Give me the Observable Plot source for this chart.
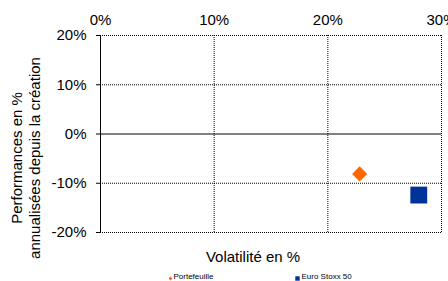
<!DOCTYPE html>
<html>
<head>
<meta charset="utf-8">
<script src="https://cdn.jsdelivr.net/npm/d3@7"></script>
<script src="https://cdn.jsdelivr.net/npm/@observablehq/plot@0.6"></script>
<style>
  html, body { margin: 0; padding: 0; background: #fff; overflow: hidden; }
  #chart { width: 448px; height: 281px; }
</style>
</head>
<body>
<div id="chart"></div>
<script>
const series = ["Portefeuille", "Euro Stoxx 50"];
const volatility = [22.8, 28.0];
const performance = [-8.1, -12.4];
const colors = ["#FF6600", "#003399"];
const symbols = ["diamond2", "square"];
const xTicks = [0, 10, 20, 30];
const yTicks = [-20, -10, 0, 10, 20];
const xTitle = "Volatilité en %";
const yTitle = "Performances en %\nannualisées depuis la création";

const data = series.map((s, i) => ({ s, x: volatility[i], y: performance[i], c: colors[i], sym: symbols[i] }));
const pct = d => d + "%";
const dotted = { stroke: "#000", strokeOpacity: 1, strokeDasharray: "1,1" };

const chart = Plot.plot({
  width: 448,
  height: 281,
  marginLeft: 100,
  marginRight: 7,
  marginTop: 35,
  marginBottom: 49,
  style: { fontFamily: "'Liberation Sans', Arial, sans-serif", fontSize: "15px", color: "#000", background: "#fff" },
  x: { domain: [0, 30], axis: null },
  y: { domain: [-20, 20], axis: null },
  symbol: { type: "identity" },
  marks: [
    Plot.gridY(yTicks.filter(d => d !== 0), dotted),
    Plot.gridX(xTicks.filter(d => d !== 0), dotted),
    Plot.ruleY([0], { stroke: "#000" }),
    Plot.ruleX([0], { y1: -20, y2: 20, stroke: "#000" }),
    Plot.text(xTicks, { x: d => d, text: pct, frameAnchor: "top", lineAnchor: "bottom", dy: -11, fontSize: 15, fill: "#000" }),
    Plot.axisY(yTicks, { anchor: "left", tickSize: 4, tickPadding: 10, tickFormat: pct, label: null, fontSize: 15 }),
    Plot.dot(data.filter(d => d.sym === "diamond2"), { x: "x", y: "y", fill: "c", symbol: "sym", r: 6.8 }),
    Plot.dot(data.filter(d => d.sym === "square"), { x: "x", y: "y", fill: "c", symbol: "sym", r: 9.5 }),
    Plot.text([xTitle], { frameAnchor: "bottom", dx: -18, dy: 29, fontSize: 15, fill: "#000" }),
    Plot.text([yTitle], { frameAnchor: "left", rotate: -90, dx: -75, dy: 24, fontSize: 15, lineHeight: 1.2, fill: "#000", textAnchor: "middle", lineAnchor: "middle" }),
    Plot.dot([series[0]], { frameAnchor: "bottom-left", dx: 70, dy: 46, fill: colors[0], symbol: "diamond2", r: 1.7 }),
    Plot.text([series[0]], { frameAnchor: "bottom-left", dx: 73, dy: 46, fontSize: 8, textAnchor: "start", fill: "#000" }),
    Plot.dot([series[1]], { frameAnchor: "bottom-left", dx: 197, dy: 46, fill: colors[1], symbol: "square", r: 2.5 }),
    Plot.text([series[1]], { frameAnchor: "bottom-left", dx: 201, dy: 46, fontSize: 8, textAnchor: "start", fill: "#000" })
  ]
});
document.getElementById("chart").appendChild(chart);
</script>
</body>
</html>
